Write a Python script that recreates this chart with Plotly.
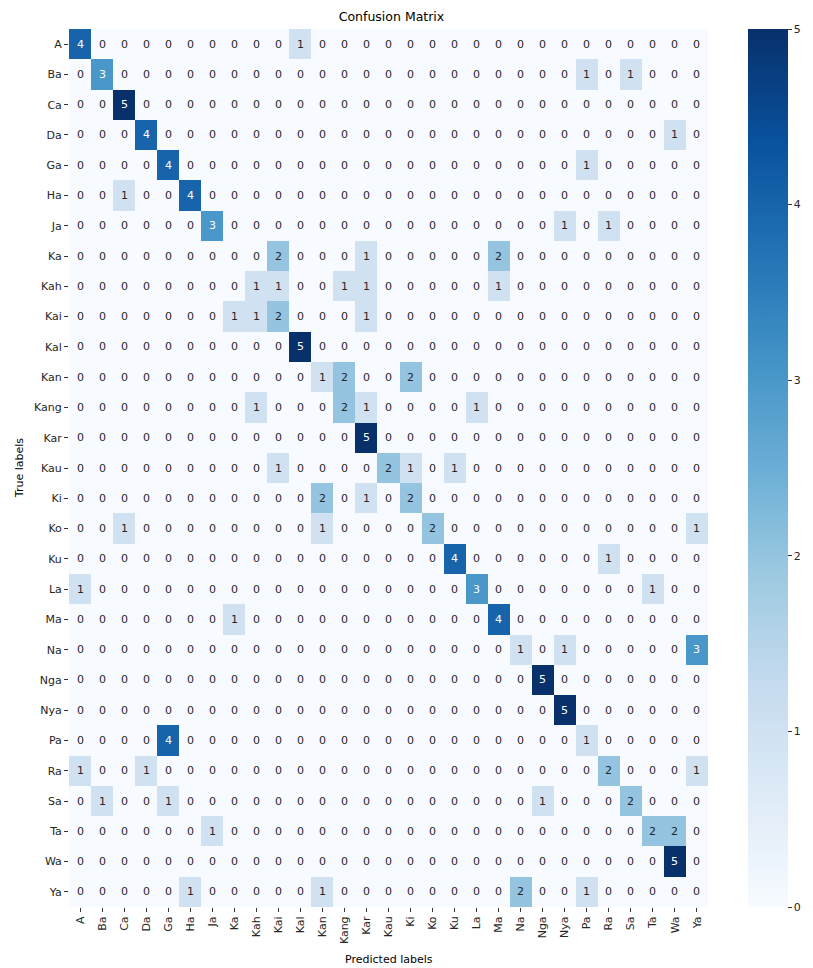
import plotly.graph_objects as go

labels = ["A", "Ba", "Ca", "Da", "Ga", "Ha", "Ja", "Ka", "Kah", "Kai", "Kal",
          "Kan", "Kang", "Kar", "Kau", "Ki", "Ko", "Ku", "La", "Ma", "Na",
          "Nga", "Nya", "Pa", "Ra", "Sa", "Ta", "Wa", "Ya"]

# Non-zero entries of the confusion matrix: (true label, predicted label, count)
nonzero = [
    ("A", "A", 4), ("A", "Kal", 1),
    ("Ba", "Ba", 3), ("Ba", "Pa", 1), ("Ba", "Sa", 1),
    ("Ca", "Ca", 5),
    ("Da", "Da", 4), ("Da", "Wa", 1),
    ("Ga", "Ga", 4), ("Ga", "Pa", 1),
    ("Ha", "Ca", 1), ("Ha", "Ha", 4),
    ("Ja", "Ja", 3), ("Ja", "Nya", 1), ("Ja", "Ra", 1),
    ("Ka", "Kai", 2), ("Ka", "Kar", 1), ("Ka", "Ma", 2),
    ("Kah", "Kah", 1), ("Kah", "Kai", 1), ("Kah", "Kang", 1), ("Kah", "Kar", 1), ("Kah", "Ma", 1),
    ("Kai", "Ka", 1), ("Kai", "Kah", 1), ("Kai", "Kai", 2), ("Kai", "Kar", 1),
    ("Kal", "Kal", 5),
    ("Kan", "Kan", 1), ("Kan", "Kang", 2), ("Kan", "Ki", 2),
    ("Kang", "Kah", 1), ("Kang", "Kang", 2), ("Kang", "Kar", 1), ("Kang", "La", 1),
    ("Kar", "Kar", 5),
    ("Kau", "Kai", 1), ("Kau", "Kau", 2), ("Kau", "Ki", 1), ("Kau", "Ku", 1),
    ("Ki", "Kan", 2), ("Ki", "Kar", 1), ("Ki", "Ki", 2),
    ("Ko", "Ca", 1), ("Ko", "Kan", 1), ("Ko", "Ko", 2), ("Ko", "Ya", 1),
    ("Ku", "Ku", 4), ("Ku", "Ra", 1),
    ("La", "A", 1), ("La", "La", 3), ("La", "Ta", 1),
    ("Ma", "Ka", 1), ("Ma", "Ma", 4),
    ("Na", "Na", 1), ("Na", "Nya", 1), ("Na", "Ya", 3),
    ("Nga", "Nga", 5),
    ("Nya", "Nya", 5),
    ("Pa", "Ga", 4), ("Pa", "Pa", 1),
    ("Ra", "A", 1), ("Ra", "Da", 1), ("Ra", "Ra", 2), ("Ra", "Ya", 1),
    ("Sa", "Ba", 1), ("Sa", "Ga", 1), ("Sa", "Nga", 1), ("Sa", "Sa", 2),
    ("Ta", "Ja", 1), ("Ta", "Ta", 2), ("Ta", "Wa", 2),
    ("Wa", "Wa", 5),
    ("Ya", "Ha", 1), ("Ya", "Kan", 1), ("Ya", "Na", 2), ("Ya", "Pa", 1),
]

n = len(labels)
idx = {lab: i for i, lab in enumerate(labels)}
matrix = [[0] * n for _ in range(n)]
for t, p, c in nonzero:
    matrix[idx[t]][idx[p]] = c

blues = [
    [0.0, "#f7fbff"], [0.125, "#deebf7"], [0.25, "#c6dbef"], [0.375, "#9ecae1"],
    [0.5, "#6baed6"], [0.625, "#4292c6"], [0.75, "#2171b5"], [0.875, "#08519c"],
    [1.0, "#08306b"],
]

font_family = "DejaVu Sans"
tick_font = dict(family=font_family, size=11, color="#262626")

fig = go.Figure(
    go.Heatmap(
        z=matrix,
        x=labels,
        y=labels,
        colorscale=blues,
        zmin=0,
        zmax=5,
        colorbar=dict(
            x=1.062,
            xanchor="left",
            xpad=0,
            y=0,
            yanchor="bottom",
            ypad=0,
            len=1,
            lenmode="fraction",
            thickness=40,
            outlinewidth=0,
            tickmode="array",
            tickvals=[0, 1, 2, 3, 4, 5],
            ticks="outside",
            ticklen=4,
            tickcolor="#333",
            tickfont=tick_font,
        ),
    )
)

# Cell annotations: light text on dark cells, dark text on light cells
annotations = []
for i in range(n):
    for j in range(n):
        v = matrix[i][j]
        annotations.append(dict(
            x=labels[j], y=labels[i], text=str(v), showarrow=False,
            font=dict(family=font_family, size=11,
                      color="#ffffff" if v >= 3 else "#262626"),
        ))

# Axis titles
annotations.append(dict(
    text="Predicted labels", xref="paper", yref="paper", x=0.5, y=-0.06,
    yanchor="middle", xanchor="center", showarrow=False,
    font=dict(family=font_family, size=11, color="#000"),
))
annotations.append(dict(
    text="True labels", xref="paper", yref="paper", x=-0.078, y=0.5,
    xanchor="center", yanchor="middle", textangle=-90, showarrow=False,
    font=dict(family=font_family, size=11, color="#000"),
))

fig.update_layout(
    width=813,
    height=968,
    margin=dict(l=69, r=99, t=29, b=61),
    paper_bgcolor="white",
    plot_bgcolor="white",
    title=dict(text="Confusion Matrix", x=(69 + 714) / 2 / 813, xanchor="center",
               xref="container", yref="container", y=1 - 17 / 968, yanchor="middle",
               font=dict(family=font_family, size=12.5, color="#000")),
    annotations=annotations,
    font=dict(family=font_family, color="#262626"),
)

fig.update_xaxes(
    tickangle=-90,
    ticks="outside",
    ticklen=4,
    tickcolor="#333",
    tickfont=tick_font,
    showgrid=False,
    zeroline=False,
    automargin=False,
)
fig.update_yaxes(
    autorange="reversed",
    ticks="outside",
    ticklen=4,
    tickcolor="#333",
    tickfont=tick_font,
    showgrid=False,
    zeroline=False,
    automargin=False,
)

fig.write_html("out.html")
